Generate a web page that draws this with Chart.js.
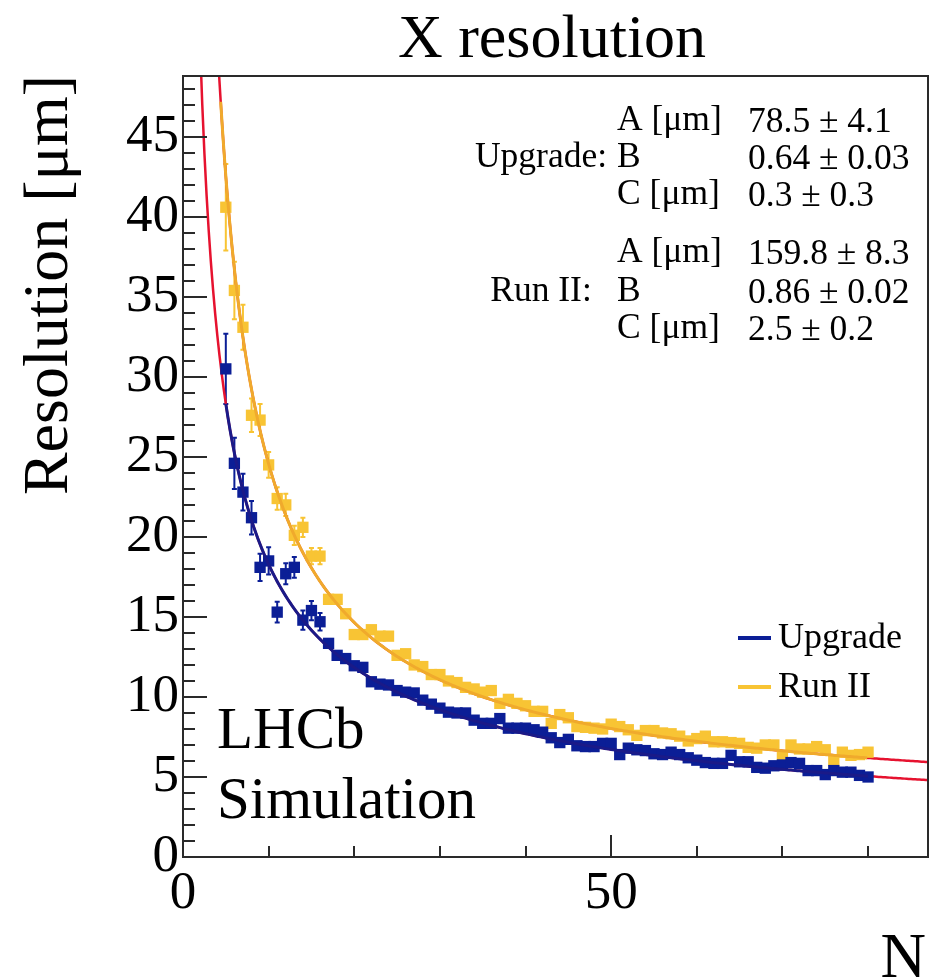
<!DOCTYPE html>
<html>
<head>
<meta charset="utf-8">
<title>X resolution</title>
<script src="https://cdn.jsdelivr.net/npm/chart.js@4.4.1/dist/chart.umd.min.js"></script>
<style>
  html, body { margin: 0; padding: 0; background: #fff; }
  #plot { display: block; }
</style>
</head>
<body>
<canvas id="plot" width="930" height="978"></canvas>
<script>
// Number of hits on the track
const nHits = [5, 6, 7, 8, 9, 10, 11, 12, 13, 14, 15, 16, 17, 18, 19, 20,
  21, 22, 23, 24, 25, 26, 27, 28, 29, 30, 31, 32, 33, 34, 35, 36, 37, 38, 39, 40,
  41, 42, 43, 44, 45, 46, 47, 48, 49, 50, 51, 52, 53, 54, 55, 56, 57, 58, 59, 60,
  61, 62, 63, 64, 65, 66, 67, 68, 69, 70, 71, 72, 73, 74, 75, 76, 77, 78, 79, 80];

// X resolution [μm] for each N
const upgradeRes = [30.5, 24.6, 22.8, 21.2, 18.1, 18.5, 15.3, 17.7, 18.1, 14.8, 15.4, 14.7, 13.35, 12.6, 12.4, 11.95,
  11.85, 10.95, 10.8, 10.75, 10.4, 10.3, 10.25, 9.8, 9.55, 9.3, 9.05, 9.0, 9.0, 8.55, 8.35, 8.35, 8.65, 8.05, 8.05, 8.05,
  7.95, 7.8, 7.45, 7.15, 7.35, 6.95, 6.9, 6.9, 7.1, 7.1, 6.4, 6.8, 6.7, 6.65, 6.45, 6.4, 6.55, 6.4, 6.2, 6.05,
  5.9, 5.85, 5.85, 6.35, 5.95, 5.95, 5.6, 5.55, 5.7, 5.75, 5.9, 5.85, 5.4, 5.4, 5.15, 5.4, 5.3, 5.3, 5.1, 5.0];
const runIIRes = [40.6, 35.4, 33.1, 27.6, 27.3, 24.5, 22.4, 22.0, 20.1, 20.6, 18.8, 18.8, 16.1, 16.1, 15.2, 13.9,
  13.9, 14.2, 13.8, 13.8, 12.6, 12.7, 12.0, 11.9, 11.4, 11.4, 11.0, 10.9, 10.6, 10.5, 10.3, 10.4, 9.6, 9.85, 9.6, 9.45,
  9.1, 9.1, 8.35, 8.9, 8.7, 8.15, 8.1, 8.05, 8.0, 8.3, 8.15, 7.95, 7.6, 7.9, 7.9, 7.75, 7.7, 7.55, 7.25, 7.4,
  7.55, 7.2, 7.2, 7.15, 7.1, 6.85, 6.8, 7.0, 7.0, 6.3, 7.0, 6.75, 6.75, 6.9, 6.7, 6.05, 6.55, 6.35, 6.4, 6.55];

// Error bars on the low-N points (further right they hide under the markers)
const upgradeErr = [2.2, 1.6, 1.15, 1.05, 0.85, 0.85, 0.65, 0.65, 0.65, 0.6, 0.6, 0.55];
const runIIErr = [2.7, 1.8, 1.4, 1.05, 1.0, 0.8, 0.7, 0.7, 0.6, 0.6, 0.5, 0.5];

// Fit sigma = A / N^B + C
const fitNames = ['A [μm]', 'B', 'C [μm]'];
const upgradeFit = [78.5, 0.64, 0.3];
const upgradeFitErr = [4.1, 0.03, 0.3];
const runIIFit = [159.8, 0.86, 2.5];
const runIIFitErr = [8.3, 0.02, 0.2];
const fitDecimals = [1, 2, 1];

const seriesNames = ['Upgrade', 'Run II'];

const X_MIN = 0, X_MAX = 87, Y_MIN = 0, Y_MAX = 48.8;

const BLUE = '#0b1e96';
const BLUE_LINE = '#1a1a88';
const ORANGE = '#f8c434';
const ORANGE_LINE = '#f0aa2c';
const RED = '#e6122f';
const SERIF = "'Liberation Serif', 'DejaVu Serif', serif";

function fitCurve(p, from, to) {
    const pts = [];
    for (let n = from; n <= to + 1e-9; n += 0.25) {
        pts.push({ x: n, y: p[0] / Math.pow(n, p[1]) + p[2] });
    }
    return pts;
}

function toPoints(values) {
    return values.map((v, i) => ({ x: nHits[i], y: v }));
}

function fmt(v, e, d) {
    return v.toFixed(d) + ' ± ' + e.toFixed(d);
}

// error bars, drawn under the markers
const errorBars = {
    id: 'errorBars',
    beforeDatasetsDraw(chart) {
        const { ctx, scales: { y } } = chart;
        ctx.save();
        ctx.lineWidth = 2;
        [[2, upgradeErr, BLUE], [3, runIIErr, ORANGE]].forEach(([idx, errs, col]) => {
            const meta = chart.getDatasetMeta(idx);
            const data = chart.data.datasets[idx].data;
            ctx.strokeStyle = col;
            errs.forEach((e, i) => {
                const px = meta.data[i].x;
                const top = y.getPixelForValue(data[i].y + e);
                const bot = y.getPixelForValue(data[i].y - e);
                ctx.beginPath();
                ctx.moveTo(px, top); ctx.lineTo(px, bot);
                ctx.moveTo(px - 2.5, top); ctx.lineTo(px + 2.5, top);
                ctx.moveTo(px - 2.5, bot); ctx.lineTo(px + 2.5, bot);
                ctx.stroke();
            });
        });
        ctx.restore();
    }
};

// frame, inward ticks, titles, fit box, legend and label
const decorations = {
    id: 'decorations',
    afterDraw(chart) {
        const { ctx, chartArea: a, scales: { x, y } } = chart;
        ctx.save();

        ctx.strokeStyle = '#2a2a2a';
        ctx.lineWidth = 2;
        ctx.strokeRect(a.left, a.top, a.right - a.left, a.bottom - a.top);

        ctx.beginPath();
        for (let v = Y_MIN; v <= Y_MAX; v += 1) {
            const py = Math.round(y.getPixelForValue(v));
            ctx.moveTo(a.left, py);
            ctx.lineTo(a.left + (v % 5 === 0 ? 24 : 12), py);
        }
        for (let n = 10; n < X_MAX; n += 10) {
            const px = Math.round(x.getPixelForValue(n));
            ctx.moveTo(px, a.bottom);
            ctx.lineTo(px, a.bottom - (n % 50 === 0 ? 22 : 11));
        }
        ctx.stroke();

        ctx.fillStyle = '#000';
        ctx.textBaseline = 'alphabetic';

        // title
        ctx.font = '62px ' + SERIF;
        ctx.textAlign = 'center';
        ctx.fillText('X resolution', 552, 57);

        // axis titles
        ctx.font = '63px ' + SERIF;
        ctx.textAlign = 'right';
        ctx.fillText('N', 926, 977);
        ctx.font = '64px ' + SERIF;
        ctx.save();
        ctx.translate(67, a.top - 1);
        ctx.rotate(-Math.PI / 2);
        ctx.fillText('Resolution [μm]', 0, 0);
        ctx.restore();

        // fit results
        ctx.font = '35.5px ' + SERIF;
        const rows = [[130, 167, 204], [262, 301, 338]];
        [[upgradeFit, upgradeFitErr], [runIIFit, runIIFitErr]].forEach(([p, e], s) => {
            ctx.textAlign = 'center';
            ctx.fillText(seriesNames[s] + ':', 541, rows[s][1]);
            ctx.textAlign = 'left';
            p.forEach((v, k) => {
                ctx.fillText(fitNames[k], 617, rows[s][k]);
                ctx.fillText(fmt(v, e[k], fitDecimals[k]), 748, rows[s][k] + 2);
            });
        });

        // legend
        ctx.font = '36px ' + SERIF;
        ctx.lineWidth = 4;
        [[BLUE, 638], [ORANGE, 687]].forEach(([col, ly], s) => {
            ctx.strokeStyle = col;
            ctx.beginPath();
            ctx.moveTo(738, ly); ctx.lineTo(771, ly);
            ctx.stroke();
            ctx.fillText(seriesNames[s], 778, ly + 10);
        });

        ctx.font = '59px ' + SERIF;
        ctx.fillText('LHCb', 217, 748);
        ctx.fillText('Simulation', 217, 818);

        ctx.restore();
    }
};

const lineStyle = (color, width) => ({
    showLine: true, pointRadius: 0, borderColor: color, borderWidth: width, fill: false, tension: 0
});

new Chart(document.getElementById('plot'), {
    type: 'scatter',
    data: {
        datasets: [
            { label: 'fit Upgrade', data: fitCurve(upgradeFit, 2, X_MAX), order: 5, ...lineStyle(RED, 2.5) },
            { label: 'fit Run II', data: fitCurve(runIIFit, 3, X_MAX), order: 5, ...lineStyle(RED, 2.5) },
            { label: seriesNames[0], data: toPoints(upgradeRes), order: 3,
              pointStyle: 'rect', pointRadius: 8, backgroundColor: BLUE, borderWidth: 0 },
            { label: seriesNames[1], data: toPoints(runIIRes), order: 3,
              pointStyle: 'rect', pointRadius: 8, backgroundColor: ORANGE, borderWidth: 0 },
            { label: 'Upgrade curve', data: fitCurve(upgradeFit, 5, 80), order: 1, ...lineStyle(BLUE_LINE, 3) },
            { label: 'Run II curve', data: fitCurve(runIIFit, 4.4, 80), order: 1, ...lineStyle(ORANGE_LINE, 3) }
        ]
    },
    options: {
        responsive: false,
        animation: false,
        events: [],
        layout: { autoPadding: false, padding: { top: 76, right: 2, left: 0, bottom: 0 } },
        plugins: { legend: { display: false }, tooltip: { enabled: false }, title: { display: false } },
        scales: {
            x: {
                type: 'linear', min: X_MIN, max: X_MAX,
                grid: { display: false, drawTicks: false },
                border: { display: false },
                ticks: { stepSize: 50, includeBounds: false, autoSkip: false, maxRotation: 0,
                         padding: 5, color: '#000', font: { family: SERIF, size: 53 } },
                afterFit: (scale) => {
                    scale.height = 121;
                    scale.paddingLeft = 0;
                    scale.paddingRight = 0;
                }
            },
            y: {
                type: 'linear', min: Y_MIN, max: Y_MAX,
                grid: { display: false, drawTicks: false },
                border: { display: false },
                ticks: { stepSize: 5, includeBounds: false, autoSkip: false,
                         padding: 4, color: '#000', font: { family: SERIF, size: 53 } },
                afterFit: (scale) => {
                    scale.width = 183;
                    scale.paddingTop = 0;
                    scale.paddingBottom = 0;
                }
            }
        }
    },
    plugins: [errorBars, decorations]
});
</script>
</body>
</html>
